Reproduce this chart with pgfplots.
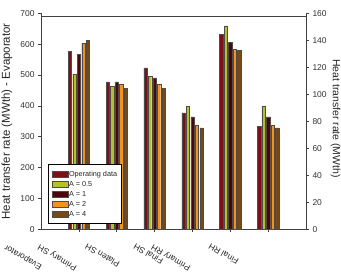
\documentclass[border=0pt]{standalone}
\usepackage{pgfplots}
\pgfplotsset{compat=1.18}
\usepackage{fontspec}
\setmainfont{Liberation Sans}

\definecolor{opdata}{HTML}{7A1018}
\definecolor{aHalf}{HTML}{B4C12B}
\definecolor{aOne}{HTML}{4C070C}
\definecolor{aTwo}{HTML}{F4921E}
\definecolor{aFour}{HTML}{7A4812}
\definecolor{axisgray}{HTML}{404040}

\begin{document}
\begin{tikzpicture}
\useasboundingbox (-41bp,-43.7bp) rectangle (300bp,229.3bp);
\begin{axis}[
  scale only axis, width=265bp, height=216bp,
  xmin=0, xmax=7, ymin=0, ymax=700,
  axis x line*=bottom, axis y line*=left,
  axis line style={-, axisgray, line width=0.6pt},
  xtick={1,...,6}, xticklabels={},
  ytick={0,100,...,700},
  tick align=outside, major tick length=3bp,
  tick style={axisgray, line width=0.5pt},
  /pgf/number format/assume math mode=true,
  yticklabel style={font=\fontsize{8.5}{10}\selectfont, text=black!80},
  every axis y label/.style={at={(axis description cs:-0.129,0.5)}, anchor=center, rotate=90,
    font=\fontsize{11.5}{13}\selectfont, text=black!85},
  ylabel={Heat transfer rate (MWth) - Evaporator},
  ybar=1.2bp, bar width=3.3bp,
  legend style={at={(axis description cs:0.026,0.302)}, anchor=north west,
    draw=black, line width=0.5pt, fill=white,
    font=\fontsize{7.3}{8}\selectfont, text=black!85,
    inner xsep=3.5bp, inner ysep=5.5bp, row sep=1.6bp,
    nodes={inner sep=1bp, text height=5.2bp, text depth=1.2bp}},
  legend cell align=left,
  legend image code/.code={\draw[#1, line width=0.4pt] (0bp,-3bp) rectangle (16bp,3bp);},
  clip=false,
]
\addplot[fill=opdata, draw=black!70, line width=0.3pt]
  coordinates {(1,576) (2,478) (3,523) (4,377) (5,632) (6,334)};
\addplot[fill=aHalf, draw=black!70, line width=0.3pt]
  coordinates {(1,503) (2,465) (3,496) (4,398) (5,659) (6,398)};
\addplot[fill=aOne, draw=black!70, line width=0.3pt]
  coordinates {(1,567) (2,478) (3,491) (4,364) (5,606) (6,364)};
\addplot[fill=aTwo, draw=black!70, line width=0.3pt]
  coordinates {(1,603) (2,470) (3,470) (4,337) (5,583) (6,337)};
\addplot[fill=aFour, draw=black!70, line width=0.3pt]
  coordinates {(1,612) (2,457) (3,457) (4,329) (5,579) (6,329)};
\legend{Operating data, A = 0.5, A = 1, A = 2, A = 4}
\draw[axisgray, line width=0.6pt] (axis cs:0,690) -- (axis cs:7,690);
\end{axis}
\begin{axis}[
  scale only axis, width=265bp, height=216bp,
  xmin=0, xmax=7, ymin=0, ymax=160,
  axis x line=none, axis y line*=right,
  axis line style={-, axisgray, line width=0.6pt},
  ytick={0,20,...,160},
  tick align=outside, major tick length=3bp,
  tick style={axisgray, line width=0.5pt},
  /pgf/number format/assume math mode=true,
  yticklabel style={font=\fontsize{8.5}{10}\selectfont, text=black!80},
  every axis y label/.style={at={(axis description cs:1.112,0.513)}, anchor=center, rotate=-90,
    font=\fontsize{10.5}{12}\selectfont, text=black!85},
  ylabel={Heat transfer rate (MWth)},
]
\end{axis}
% component names under the bar groups
\begin{scope}[every node/.style={rotate=150, anchor=south east, inner sep=0pt,
    font=\fontsize{8.5}{10}\selectfont, text=black!85}]
\node at (-33.7bp,-13.7bp) {Evaporator};
\node at (-0.3bp,-13.7bp) {Primary SH};
\node at (46.3bp,-13.7bp) {Platen SH};
\node at (94.7bp,-13.7bp) {Final SH};
\node at (113bp,-13.7bp) {Primary RH};
\node at (169.7bp,-13.7bp) {Final RH};
\end{scope}
\end{tikzpicture}
\end{document}
